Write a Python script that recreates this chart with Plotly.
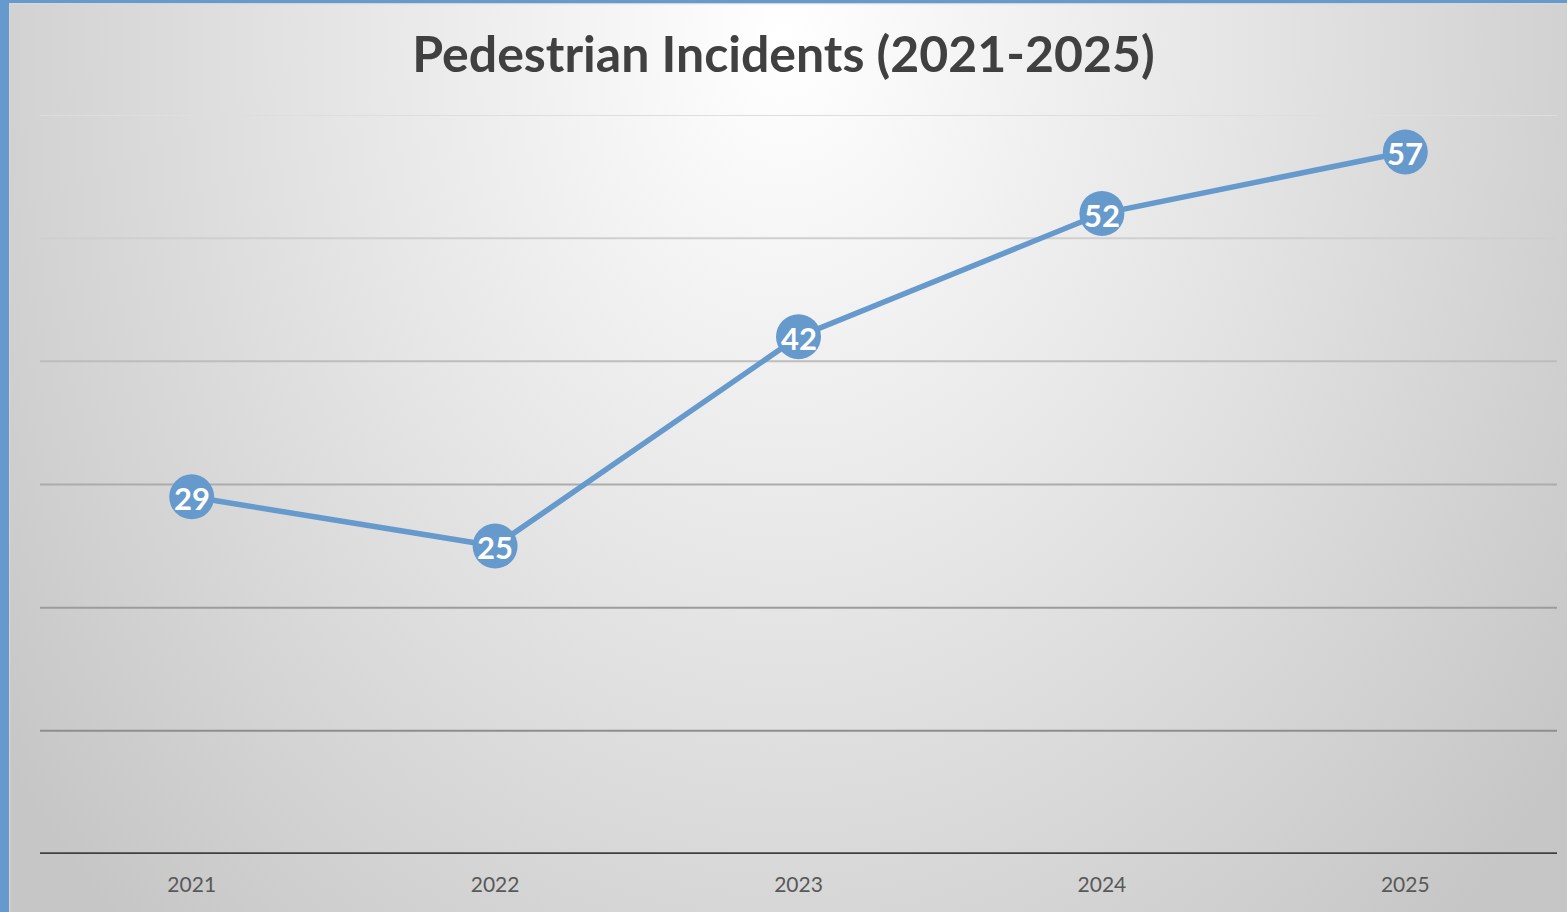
import plotly.graph_objects as go
import base64

years = ["2021", "2022", "2023", "2024", "2025"]
incidents = [29, 25, 42, 52, 57]
grid_values = [10, 20, 30, 40, 50, 60]
grid_colors = ["#8e8e8e", "#9c9c9c", "#acacac", "#bdbdbd", "#cfcfcf", "#dedede"]

W, H = 1567, 912
L, R, T, B = 40, 10, 115, 58
pw, ph = W - L - R, H - T - B

svg = f'''<svg xmlns="http://www.w3.org/2000/svg" width="{W}" height="{H}" viewBox="0 0 {W} {H}">
<defs>
<radialGradient id="g" cx="{W/2}" cy="40" r="{W*0.62}" gradientUnits="userSpaceOnUse" gradientTransform="translate({W/2} 40) scale(1 1.25) translate({-W/2} -40)">
<stop offset="0" stop-color="#ffffff"/>
<stop offset="0.45" stop-color="#e6e6e6"/>
<stop offset="1" stop-color="#c6c6c6"/>
</radialGradient>
</defs>
<rect x="0" y="0" width="{W}" height="{H}" fill="url(#g)"/>
<rect x="9.5" y="3.5" width="{W}" height="{H}" fill="none" stroke="#d6d6d6" stroke-width="1.5"/>
<rect x="0" y="0" width="{W}" height="3" fill="#6699cc"/>
<rect x="0" y="0" width="9" height="{H}" fill="#6699cc"/>
</svg>'''
src = "data:image/svg+xml;base64," + base64.b64encode(svg.encode()).decode()

fig = go.Figure()
fig.add_trace(go.Scatter(
    x=years, y=incidents,
    mode="lines+markers",
    line=dict(color="#6699cc", width=5.5),
    marker=dict(size=45, color="#6699cc", line=dict(width=0)),
    hoverinfo="x+y",
    cliponaxis=False,
    showlegend=False,
))

annotations = [dict(x=i, y=v, xref="x", yref="y", text=f"<b>{v}</b>", showarrow=False,
                    xanchor="center", yanchor="middle", yshift=-1,
                    font=dict(color="white", size=31, family="Lato"))
               for i, v in enumerate(incidents)]

shapes = []
for v, c in zip(grid_values, grid_colors):
    shapes.append(dict(type="line", xref="paper", yref="y", x0=0, x1=1, y0=v, y1=v,
                       line=dict(color=c, width=2), layer="below"))
shapes.append(dict(type="line", xref="paper", yref="y", x0=0, x1=1, y0=0, y1=0,
                   line=dict(color="#404040", width=3.5), layer="below"))

fig.update_layout(
    width=W, height=H,
    margin=dict(l=L, r=R, t=T, b=B),
    paper_bgcolor="#d8d8d8",
    plot_bgcolor="rgba(0,0,0,0)",
    title=dict(text="<b>Pedestrian Incidents (2021-2025)</b>", x=0.5, xanchor="center",
               y=1 - 54 / H, yanchor="middle",
               font=dict(family="Lato", size=50, color="#404040")),
    xaxis=dict(type="category", range=[-0.5, 4.5], showgrid=False, zeroline=False,
               showline=False, ticks="", tickfont=dict(family="Lato", size=21, color="#595959"),
               ticklabelstandoff=16),
    yaxis=dict(range=[0, 60], showgrid=False, zeroline=False, showticklabels=False,
               showline=False, ticks="", fixedrange=True),
    shapes=shapes,
    annotations=annotations,
    images=[dict(source=src, xref="paper", yref="paper",
                 x=-L / pw, y=1 + T / ph, sizex=W / pw, sizey=H / ph,
                 xanchor="left", yanchor="top", sizing="stretch", layer="below")],
)

fig.write_html("out.html", config={"displayModeBar": False},
               post_script="document.body.style.margin='0';document.body.style.overflow='hidden';")
